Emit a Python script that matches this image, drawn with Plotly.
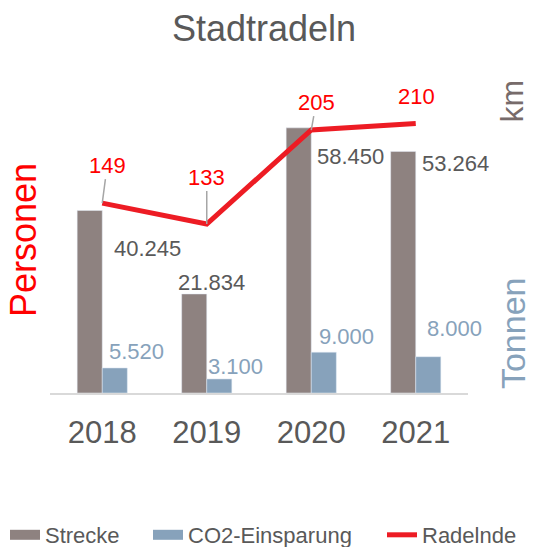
import plotly.graph_objects as go

years = ["2018", "2019", "2020", "2021"]
strecke = [40245, 21834, 58450, 53264]
co2 = [5520, 3100, 9000, 8000]
radelnde = [149, 133, 205, 210]
strecke_labels = ["40.245", "21.834", "58.450", "53.264"]
co2_labels = ["5.520", "3.100", "9.000", "8.000"]

C_STRECKE = "#8E8280"
C_CO2 = "#87A2BB"
C_RED = "#ED1C24"
C_TEXT = "#595959"
FONT = "Liberation Sans, Arial, sans-serif"

fig = go.Figure()
fig.add_trace(go.Bar(x=years, y=strecke, name="Strecke", marker_color=C_STRECKE,
                     showlegend=False))
fig.add_trace(go.Bar(x=years, y=co2, name="CO2-Einsparung", marker_color=C_CO2,
                     showlegend=False))
fig.add_trace(go.Scatter(x=years, y=radelnde, name="Radelnde", yaxis="y2",
                         mode="lines", line=dict(color=C_RED, width=5),
                         showlegend=False))
# legend entries (one legend each, for placement)
fig.add_trace(go.Scatter(x=[None], y=[None], mode="lines", name="Strecke",
                         line=dict(color=C_STRECKE, width=10), legend="legend"))
fig.add_trace(go.Scatter(x=[None], y=[None], mode="lines", name="CO2-Einsparung",
                         line=dict(color=C_CO2, width=10), legend="legend2"))
fig.add_trace(go.Scatter(x=[None], y=[None], mode="lines", name="Radelnde",
                         line=dict(color=C_RED, width=5), legend="legend3"))

annotations = []
s_shift = [(45, -38), (5, 11), (39, -29), (40, -12)]
for i, (v, t, (dx, dy)) in enumerate(zip(strecke, strecke_labels, s_shift)):
    annotations.append(dict(x=i, y=v, xref="x", yref="y", text=t, showarrow=False,
                            xshift=dx, yshift=dy,
                            font=dict(size=22, color=C_TEXT, family=FONT)))
c_shift = [(34, 16), (29, 12), (35, 16), (39, 28)]
for i, (v, t, (dx, dy)) in enumerate(zip(co2, co2_labels, c_shift)):
    annotations.append(dict(x=i, y=v, xref="x", yref="y", text=t, showarrow=False,
                            xshift=dx, yshift=dy,
                            font=dict(size=22, color=C_CO2, family=FONT)))
r_off = [(5, -38, True), (0, -47, True), (5, -28, True), (1, -27, False)]
for i, (v, (ax, ay, arrow)) in enumerate(zip(radelnde, r_off)):
    if arrow:
        annotations.append(dict(x=i, y=v, xref="x", yref="y2", text=str(v),
                                showarrow=True, ax=ax, ay=ay, arrowhead=0,
                                arrowwidth=1.5, arrowcolor="#A6A6A6",
                                font=dict(size=22, color="#FF0000", family=FONT)))
    else:
        annotations.append(dict(x=i, y=v, xref="x", yref="y2", text=str(v),
                                showarrow=False, xshift=ax, yshift=-ay,
                                font=dict(size=22, color="#FF0000", family=FONT)))
annotations.append(dict(x=-0.062, y=0.489, xref="paper", yref="paper", text="Personen",
                        textangle=-90, showarrow=False, xanchor="center", yanchor="middle",
                        font=dict(size=36, color="#FF0000", family=FONT)))
annotations.append(dict(x=1.106, y=0.932, xref="paper", yref="paper", text="km",
                        textangle=-90, showarrow=False, xanchor="center", yanchor="middle",
                        font=dict(size=32, color="#776B6A", family=FONT)))
annotations.append(dict(x=1.108, y=0.192, xref="paper", yref="paper", text="Tonnen",
                        textangle=-90, showarrow=False, xanchor="center", yanchor="middle",
                        font=dict(size=34, color=C_CO2, family=FONT)))

leg_common = dict(orientation="h", xref="container", yref="container",
                  y=1 - 535 / 547, yanchor="middle", xanchor="left",
                  font=dict(size=22, color=C_TEXT, family=FONT),
                  bgcolor="rgba(0,0,0,0)", borderwidth=0)

fig.update_layout(
    width=549, height=547,
    margin=dict(l=50, r=81, t=80, b=154, autoexpand=False),
    paper_bgcolor="white", plot_bgcolor="white",
    barmode="group", bargap=0.52, bargroupgap=0,
    hovermode=False,
    title=dict(text="Stadtradeln", x=0.512, xref="paper", y=1 - 28 / 547,
               yref="container", xanchor="center", yanchor="middle",
               font=dict(size=36, color=C_TEXT, family=FONT)),
    xaxis=dict(type="category", range=[-0.5, 3.5], showline=True, linecolor="#D9D9D9",
               linewidth=2, showgrid=False, ticks="outside", ticklen=11,
               tickcolor="rgba(0,0,0,0)", tickangle=0, automargin=False,
               tickfont=dict(size=31, color=C_TEXT, family=FONT)),
    yaxis=dict(range=[0, 69000], visible=False, showgrid=False),
    yaxis2=dict(range=[3.6, 243.3], overlaying="y", side="left", visible=False,
                showgrid=False),
    legend=dict(x=5 / 549, **leg_common),
    legend2=dict(x=148 / 549, **leg_common),
    legend3=dict(x=382 / 549, **leg_common),
    annotations=annotations,
)

fig.write_html("out.html", config={"displayModeBar": False},
               post_script="document.body.style.margin='0';")
